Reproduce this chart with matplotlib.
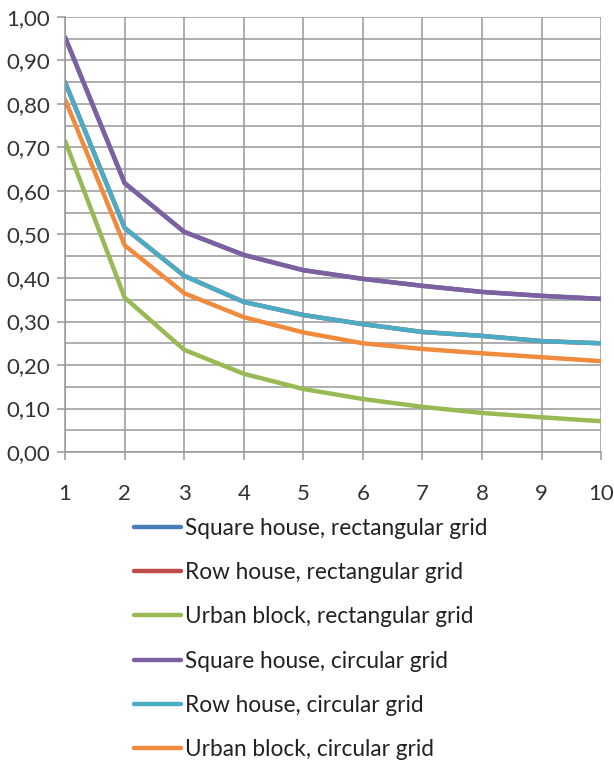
import numpy as np
import matplotlib.pyplot as plt
from matplotlib.ticker import FuncFormatter, MultipleLocator

x = list(range(1, 11))

labels = ['Square house, rectangular grid',
          'Row house, rectangular grid',
          'Urban block, rectangular grid',
          'Square house, circular grid',
          'Row house, circular grid',
          'Urban block, circular grid']

# rectangular grid series sit under the circular ones in the picture
square_rect = [0.953, 0.618, 0.506, 0.453, 0.418, 0.398, 0.382, 0.368, 0.359, 0.352]
row_rect = [0.850, 0.515, 0.405, 0.345, 0.315, 0.294, 0.276, 0.267, 0.255, 0.250]
urban_rect = [0.715, 0.355, 0.235, 0.180, 0.145, 0.122, 0.104, 0.090, 0.080, 0.071]
square_circ = [0.953, 0.618, 0.506, 0.453, 0.418, 0.398, 0.382, 0.368, 0.359, 0.352]
row_circ = [0.850, 0.515, 0.405, 0.345, 0.315, 0.294, 0.276, 0.267, 0.255, 0.250]
urban_circ = [0.810, 0.475, 0.365, 0.310, 0.275, 0.250, 0.237, 0.227, 0.218, 0.209]

series = [square_rect, row_rect, urban_rect, square_circ, row_circ, urban_circ]
colors = ['#4A7EBB', '#BE4B48', '#98B954', '#7D60A0', '#4BACC6', '#F08A3C']

plt.rcParams['font.family'] = ['Lato', 'DejaVu Sans']

fig = plt.figure(figsize=(6.14, 7.65), dpi=100)
ax = fig.add_axes([0.106, 0.409, 0.873, 0.569])

for vals, col, lab in zip(series, colors, labels):
    ax.plot(x, vals, color=col, linewidth=3.2, label=lab, solid_capstyle='round')

ax.set_xlim(1, 10)
ax.set_ylim(0, 1.0)
ax.set_xticks(x)
ax.yaxis.set_major_locator(MultipleLocator(0.1))
ax.yaxis.set_minor_locator(MultipleLocator(0.05))
ax.yaxis.set_major_formatter(FuncFormatter(lambda v, p: f'{v:.2f}'.replace('.', ',')))

ax.grid(True, which='both', color='#999999', linewidth=1.1)
ax.set_axisbelow(True)
for s in ['top', 'right']:
    ax.spines[s].set_visible(False)
for s in ['left', 'bottom']:
    ax.spines[s].set_color('#999999')
    ax.spines[s].set_linewidth(1.1)
ax.tick_params(axis='both', which='major', colors='#999999', labelcolor='#333333',
               labelsize=16, length=6, width=1.1)
ax.tick_params(axis='y', which='minor', length=0)
ax.tick_params(axis='y', pad=5)
ax.tick_params(axis='x', pad=17)

fig.legend(loc='upper left', bbox_to_anchor=(0.204, 0.335), frameon=False,
           fontsize=16.3, handlelength=2.05, handletextpad=0.2, labelspacing=1.03,
           borderaxespad=0, labelcolor='#222222')

fig.savefig('out.png', dpi=100)
